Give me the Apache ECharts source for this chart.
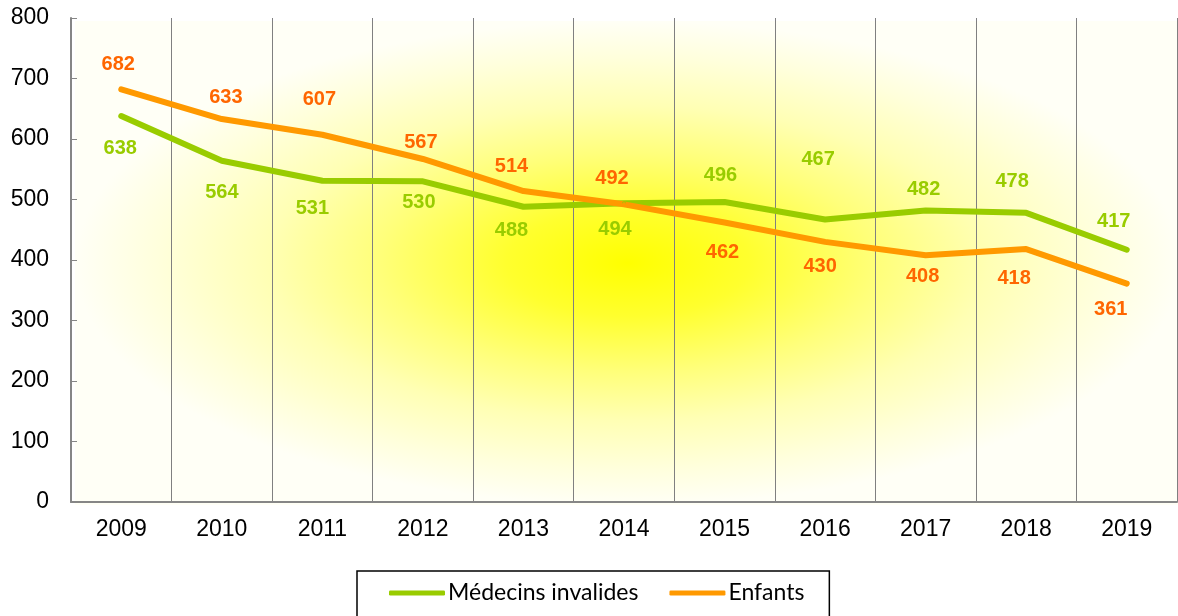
<!DOCTYPE html>
<html>
<head>
<meta charset="utf-8">
<script src="https://cdn.jsdelivr.net/npm/echarts@6/dist/echarts.min.js"></script>
<style>
  html, body { margin: 0; padding: 0; background: #fff; }
  #chart { width: 1178px; height: 616px; }
</style>
</head>
<body>
<div id="chart"></div>
<script>
const years = ["2009", "2010", "2011", "2012", "2013", "2014", "2015", "2016", "2017", "2018", "2019"];
const medecins = [638, 564, 531, 530, 488, 494, 496, 467, 482, 478, 417];
const enfants = [682, 633, 607, 567, 514, 492, 462, 430, 408, 418, 361];
const yTicks = [0, 100, 200, 300, 400, 500, 600, 700, 800];

// where each value label sits relative to its point (dx, dy)
const medLabelOffset = [[-1, 32], [0, 32], [-10, 28], [-4, 21], [-12, 24], [-9, 26],
  [-4, -26], [-7, -60], [-2, -21], [-14, -31], [-13, -28]];
const enfLabelOffset = [[-3, -25], [4, -22], [-3, -35], [-2, -16], [-12, -25], [-12, -26],
  [-2, 30], [-5, 25], [-3, 21], [-12, 29], [-16, 26]];

const GREEN = "#99cc00";
const ORANGE = "#ff9900";

const chart = echarts.init(document.getElementById("chart"));

const makeData = (values, offsets, color) =>
  values.map((v, i) => ({
    value: v,
    label: { offset: offsets[i], color: color },
  }));

chart.setOption({
  animation: false,
  grid: { left: 71, right: 1, top: 18, bottom: 114 },
  graphic: [
    {
      // soft yellow glow behind the plot
      type: "rect",
      z: -10,
      silent: true,
      x: 628,
      y: 263,
      scaleX: 1106 / 484,
      shape: { x: -242, y: -242, width: 484, height: 484 },
      style: {
        fill: new echarts.graphic.RadialGradient(0.5, 0.5, 0.5, [
          { offset: 0, color: "#ffff00" },
          { offset: 0.22, color: "#ffff2e" },
          { offset: 0.45, color: "#ffff7a" },
          { offset: 0.65, color: "#ffffb4" },
          { offset: 0.85, color: "#ffffdc" },
          { offset: 1, color: "#fffff6" },
        ]),
      },
    },
  ],
  xAxis: {
    type: "category",
    data: years,
    boundaryGap: true,
    axisLine: { lineStyle: { color: "#868686", width: 2 } },
    axisTick: { show: false },
    axisLabel: { color: "#000", fontSize: 23, fontFamily: "Liberation Sans", margin: 16 },
    splitLine: { show: true, interval: 0, lineStyle: { color: "#808080", width: 1 } },
  },
  yAxis: {
    type: "value",
    min: yTicks[0],
    max: yTicks[yTicks.length - 1],
    interval: 100,
    axisLine: { show: true, lineStyle: { color: "#868686", width: 2 } },
    axisTick: { show: true, inside: true, length: 6, lineStyle: { color: "#868686", width: 1 } },
    axisLabel: { color: "#000", fontSize: 23, fontFamily: "Liberation Sans", margin: 22 },
    splitLine: { show: false },
  },
  legend: {
    data: ["Médecins invalides", "Enfants"],
    left: 357,
    top: 571,
    orient: "horizontal",
    borderColor: "#000",
    borderWidth: 1.5,
    borderRadius: 0,
    padding: [10, 25, 30, 32],
    itemGap: 31,
    itemWidth: 56,
    itemHeight: 5,
    icon: "roundRect",
    textStyle: { color: "#000", fontSize: 23, fontFamily: "Lato", padding: [0, 0, 0, -2], lineHeight: 24 },
  },
  series: [
    {
      name: "Médecins invalides",
      type: "line",
      data: makeData(medecins, medLabelOffset, GREEN),
      color: GREEN,
      symbol: "circle",
      symbolSize: 4,
      showSymbol: true,
      lineStyle: { width: 6, color: GREEN, cap: "round", join: "round" },
      itemStyle: { color: GREEN },
      label: {
        show: true,
        position: "inside",
        fontSize: 20,
        fontWeight: "bold",
        fontFamily: "Liberation Sans",
      },
    },
    {
      name: "Enfants",
      type: "line",
      data: makeData(enfants, enfLabelOffset, "#ff6600"),
      color: ORANGE,
      symbol: "circle",
      symbolSize: 4,
      showSymbol: true,
      lineStyle: { width: 6, color: ORANGE, cap: "round", join: "round" },
      itemStyle: { color: ORANGE },
      label: {
        show: true,
        position: "inside",
        fontSize: 20,
        fontWeight: "bold",
        fontFamily: "Liberation Sans",
      },
    },
  ],
});
</script>
</body>
</html>
